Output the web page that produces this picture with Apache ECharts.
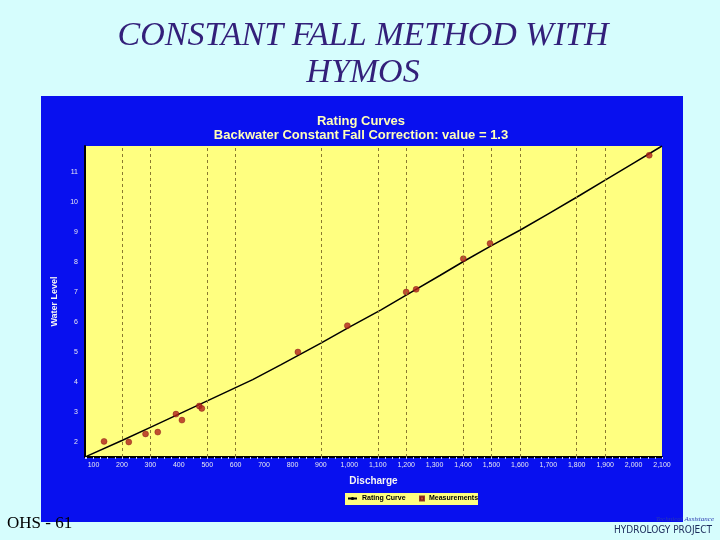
<!DOCTYPE html>
<html>
<head>
<meta charset="utf-8">
<script src="https://cdn.jsdelivr.net/npm/echarts@6/dist/echarts.min.js"></script>
<style>
html,body{margin:0;padding:0;background:#d6fdfd;}
#c{width:720px;height:540px;}
</style>
</head>
<body>
<div id="c"></div>
<script>
// Rating curve (discharge, water level)
const curveQ = [75, 200, 300, 400, 500, 660, 760, 900, 1000, 1110, 1200, 1320, 1400, 1500, 1600, 1700, 1810, 1900, 2000, 2100];
const curveH = [1.52, 2.05, 2.49, 2.93, 3.37, 4.08, 4.58, 5.30, 5.83, 6.40, 6.90, 7.56, 8.01, 8.55, 9.06, 9.61, 10.22, 10.73, 11.30, 11.87];
// Measurements
const measQ = [137, 224, 283, 326, 390, 411, 472, 481, 819, 993, 1200, 1235, 1401, 1495, 2055];
const measH = [2.02, 2.00, 2.27, 2.33, 2.93, 2.73, 3.20, 3.12, 5.00, 5.88, 7.00, 7.09, 8.11, 8.62, 11.56];
// Vertical grid lines visible in the picture
const gridQ = [200, 300, 500, 600, 900, 1100, 1200, 1400, 1500, 1600, 1800, 1900];

const chart = echarts.init(document.getElementById('c'), null, {renderer: 'canvas'});
const fmt = v => Number.isInteger(v) ? v.toLocaleString('en-US') : '';
const legendText = {color: '#000', fontSize: 7, fontWeight: 'bold', fontFamily: 'Liberation Sans'};

chart.setOption({
  backgroundColor: '#d6fdfd',
  animation: false,
  graphic: [
    {type: 'rect', z: -10, shape: {x: 41, y: 96, width: 642, height: 426}, style: {fill: '#0810ef'}},
    {type: 'rect', z: 1, shape: {x: 345, y: 493, width: 133, height: 12}, style: {fill: '#ffff80'}},
    {type: 'text', x: 363, y: 36, style: {text: 'CONSTANT FALL METHOD WITH', font: 'italic 34px "Liberation Serif"', fill: '#33207a', textAlign: 'center', textVerticalAlign: 'middle'}},
    {type: 'text', x: 363, y: 73, style: {text: 'HYMOS', font: 'italic 34px "Liberation Serif"', fill: '#33207a', textAlign: 'center', textVerticalAlign: 'middle'}},
    {type: 'text', x: 361, y: 121, style: {text: 'Rating Curves', font: 'bold 13px "Liberation Sans"', fill: '#ffffb8', textAlign: 'center', textVerticalAlign: 'middle'}},
    {type: 'text', x: 361, y: 135, style: {text: 'Backwater Constant Fall Correction: value = 1.3', font: 'bold 13px "Liberation Sans"', fill: '#ffffb8', textAlign: 'center', textVerticalAlign: 'middle'}},
    {type: 'text', x: 7, y: 524, style: {text: 'OHS - 61', font: '17px "Liberation Serif"', fill: '#000', textAlign: 'left', textVerticalAlign: 'middle'}},
    {type: 'text', x: 712, y: 530, style: {text: 'HYDROLOGY PROJECT', font: '10px "Liberation Sans Narrow", "DejaVu Sans Condensed", sans-serif', fill: '#1a2a5a', textAlign: 'right', textVerticalAlign: 'middle'}},
    {type: 'text', x: 714, y: 519, style: {text: 'Technical Assistance', font: 'italic 7px "Liberation Serif"', fill: '#2a3ab0', textAlign: 'right', textVerticalAlign: 'middle'}}
  ],
  grid: {left: 85, right: 58, top: 146, bottom: 83, show: true, backgroundColor: '#ffff80', borderWidth: 0},
  legend: [
    {
      left: 345, top: 494, padding: [1, 2], itemWidth: 9, itemHeight: 4,
      textStyle: legendText, data: [{name: 'Rating Curve'}]
    },
    {
      left: 417, top: 494, padding: [1, 2], itemWidth: 4, itemHeight: 4,
      textStyle: legendText, data: [{name: 'Measurements', icon: 'rect'}]
    }
  ],
  xAxis: {
    type: 'value', min: 70, max: 2100, splitNumber: 20,
    name: 'Discharge', nameLocation: 'middle', nameGap: 19,
    nameTextStyle: {color: '#f4f4f4', fontSize: 10, fontWeight: 'bold', fontFamily: 'Liberation Sans'},
    axisLine: {show: true, lineStyle: {color: '#000', width: 2}},
    axisTick: {show: true, length: 2, lineStyle: {color: '#c8c8ff'}},
    minorTick: {show: true, splitNumber: 4, length: 2, lineStyle: {color: '#c8c8ff'}},
    axisLabel: {color: '#e8e8f0', fontSize: 7, margin: 5, fontFamily: 'Liberation Sans', formatter: fmt, showMinLabel: false},
    splitLine: {show: false}
  },
  yAxis: {
    type: 'value', min: 1.5, max: 11.87, splitNumber: 10,
    name: 'Water Level', nameLocation: 'middle', nameGap: 16,
    nameTextStyle: {color: '#f4f4f4', fontSize: 9, fontWeight: 'bold', fontFamily: 'Liberation Sans'},
    axisLine: {show: true, lineStyle: {color: '#000', width: 2}},
    axisTick: {show: false},
    axisLabel: {color: '#e8e8f0', fontSize: 7, margin: 7, fontFamily: 'Liberation Sans', formatter: fmt, showMinLabel: false, showMaxLabel: false},
    splitLine: {show: false}
  },
  series: [
    {
      name: 'Rating Curve', type: 'line', symbol: 'none', z: 3,
      data: curveQ.map((q, i) => [q, curveH[i]]),
      lineStyle: {color: '#000', width: 1.5},
      itemStyle: {color: '#000'},
      markLine: {
        silent: true, symbol: 'none', label: {show: false},
        lineStyle: {color: '#8a7a30', type: [3, 3], width: 1},
        data: gridQ.map(q => ({xAxis: q}))
      }
    },
    {
      name: 'Measurements', type: 'scatter', symbolSize: 6, z: 4,
      data: measQ.map((q, i) => [q, measH[i]]),
      itemStyle: {color: '#b0201a', borderColor: '#7a1010', borderWidth: 0.5}
    }
  ]
});
</script>
</body>
</html>
